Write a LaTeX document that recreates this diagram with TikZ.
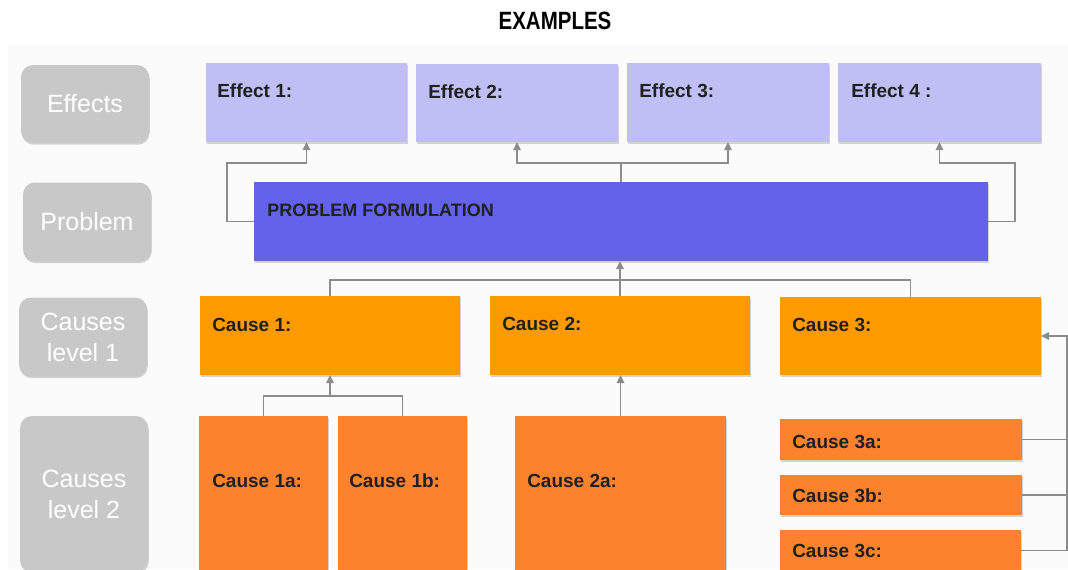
\documentclass[tikz,border=0pt]{standalone}
\usepackage{fontspec}
\setmainfont{Liberation Sans}
\usetikzlibrary{arrows.meta,shadows,calc}

\definecolor{panelbg}{HTML}{FBFBFB}
\definecolor{effectfill}{HTML}{BFBFF5}
\definecolor{problemfill}{HTML}{6262EA}
\definecolor{causeAfill}{HTML}{FD9A00}
\definecolor{causeBfill}{HTML}{FD822E}
\definecolor{tagfill}{HTML}{C8C8C8}
\definecolor{linegrey}{HTML}{8C8C8C}
\definecolor{inktext}{HTML}{202020}

\begin{document}
\begin{tikzpicture}[x=0.75pt,y=-0.75pt,
  sz/.style 2 args={minimum width=#1*0.75pt, minimum height=#2*0.75pt},
  boxbase/.style={rectangle, inner sep=0pt, outer sep=0pt, draw=none,
    drop shadow={shadow xshift=0.6pt, shadow yshift=-1.3pt, opacity=0.16, fill=black}},
  effectbox/.style={boxbase, fill=effectfill},
  problembox/.style={boxbase, fill=problemfill},
  causeonebox/.style={boxbase, fill=causeAfill},
  causetwobox/.style={boxbase, fill=causeBfill},
  tagbox/.style={boxbase, fill=tagfill, rounded corners=9pt,
    text=white, align=center, font=\fontsize{18.75pt}{23.25pt}\selectfont},
  boxtext/.style={anchor=west, inner sep=0pt, text=inktext,
    font=\fontsize{14.25pt}{17pt}\selectfont\bfseries},
  conn/.style={draw=linegrey, line width=1.1pt},
  tip/.style={-{Triangle[length=6pt,width=5.5pt]}},
]
\useasboundingbox (0,0) rectangle (1068,569);
\clip (0,0) rectangle (1068,569);

% panel behind the chart
\fill[panelbg] (7,45) rectangle (1068,569);

% title
\node (title) at (555,21) {\scalebox{0.82}[1]{\fontsize{18.75pt}{22pt}\selectfont\bfseries EXAMPLES}};

% row tags
\node[tagbox, sz={128}{78}]  (tEff)  at (85,104)    {Effects};
\node[tagbox, sz={128}{79}]  (tProb) at (87,222)    {Problem};
\node[tagbox, sz={128}{79}]  (tC1)   at (83,337)    {Causes\\level 1};
\node[tagbox, sz={128}{156}] (tC2)   at (84,494)    {Causes\\level 2};

% effects
\node[effectbox, sz={201}{79}] (e1) at (306.5,102.5) {};
\node[effectbox, sz={202}{78}] (e2) at (517,103)     {};
\node[effectbox, sz={202}{79}] (e3) at (728,102.5)   {};
\node[effectbox, sz={203}{79}] (e4) at (939.5,102.5) {};

% problem
\node[problembox, sz={734}{79}] (pf) at (621,221.5) {};

% causes, level 1
\node[causeonebox, sz={260}{79}] (c1) at (330,335.5) {};
\node[causeonebox, sz={260}{79}] (c2) at (620,335.5) {};
\node[causeonebox, sz={261}{78}] (c3) at (910.5,336) {};

% causes, level 2
\node[causetwobox, sz={129}{159}] (c1a) at (263.5,495.5) {};
\node[causetwobox, sz={129}{159}] (c1b) at (402.5,495.5) {};
\node[causetwobox, sz={211}{159}] (c2a) at (620.5,495.5) {};
\node[causetwobox, sz={242}{41}]  (c3a) at (901,439.5)   {};
\node[causetwobox, sz={242}{40}]  (c3b) at (901,495)     {};
\node[causetwobox, sz={241}{41}]  (c3c) at (900.5,550.5) {};

% box texts
\node[boxtext] (le1) at ($(e1.north west)+(11,28)$) {Effect 1:};
\node[boxtext] (le2) at ($(e2.north west)+(12,28)$) {Effect 2:};
\node[boxtext] (le3) at ($(e3.north west)+(12,28)$) {Effect 3:};
\node[boxtext] (le4) at ($(e4.north west)+(13,28)$) {Effect 4 :};
\node[boxtext, font=\fontsize{13.5pt}{16pt}\selectfont\bfseries] (lpf) at ($(pf.north west)+(13,28)$) {PROBLEM FORMULATION};
\node[boxtext] (lc1) at ($(c1.north west)+(12,29)$) {Cause 1:};
\node[boxtext] (lc2) at ($(c2.north west)+(12,28)$) {Cause 2:};
\node[boxtext] (lc3) at ($(c3.north west)+(12,28)$) {Cause 3:};
\node[boxtext] (lc1a) at ($(c1a.north west)+(13,65)$) {Cause 1a:};
\node[boxtext] (lc1b) at ($(c1b.north west)+(11,65)$) {Cause 1b:};
\node[boxtext] (lc2a) at ($(c2a.north west)+(12,65)$) {Cause 2a:};
\node[boxtext] (lc3a) at ($(c3a.north west)+(12,23)$) {Cause 3a:};
\node[boxtext] (lc3b) at ($(c3b.north west)+(12,21)$) {Cause 3b:};
\node[boxtext] (lc3c) at ($(c3c.north west)+(12,21)$) {Cause 3c:};

% problem -> effects
\draw[conn, tip] (pf.west) -- ++(-27,0) -- ++(0,-58.5) -| (e1.south);
\draw[conn, tip] (pf.north) -- ++(0,-19) -| (e2.south);
\draw[conn, tip] (pf.north) -- ++(0,-19) -| (e3.south);
\draw[conn, tip] (pf.east) -- ++(27,0) -- ++(0,-58.5) -| (e4.south);

% causes level 1 -> problem
\draw[conn] (c1.north) -- ++(0,-16) -| (c3.north);
\draw[conn, tip] (c2.north) -- (c2.north |- pf.south);

% causes level 2 -> causes level 1
\coordinate (j1) at ($(c1a.north)+(0,-20)$);
\draw[conn] (c1a.north) -- (j1) -| (c1b.north);
\draw[conn, tip] (j1 -| c1.south) -- (c1.south);
\draw[conn, tip] (c2a.north) -- (c2a.north |- c2.south);

\coordinate (rail) at (1067,336);
\draw[conn, tip] (c3c.east) -| (rail) -- (c3.east);
\draw[conn] (c3a.east) -- (c3a.east -| rail);
\draw[conn] (c3b.east) -- (c3b.east -| rail);
\end{tikzpicture}
\end{document}
